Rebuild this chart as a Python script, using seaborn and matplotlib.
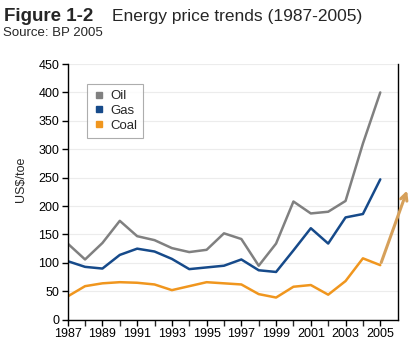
import matplotlib
matplotlib.use("Agg")
import matplotlib.pyplot as plt
from matplotlib.lines import Line2D
import seaborn as sns
import pandas as pd

years = list(range(1987, 2006))
oil = [134, 106, 135, 174, 147, 140, 126, 119, 123, 152, 142, 95, 134, 208, 187, 190, 209, 310, 400]
gas = [103, 93, 90, 114, 125, 120, 107, 89, 92, 95, 106, 87, 84, 122, 161, 134, 180, 186, 247]
coal = [41, 59, 64, 66, 65, 62, 52, 59, 66, 64, 62, 45, 39, 58, 61, 44, 68, 108, 96]
series = ["Oil", "Gas", "Coal"]
colors = {"Oil": "#808080", "Gas": "#164a8a", "Coal": "#f0961e"}

df = pd.DataFrame({
    "year": years * 3,
    "value": oil + gas + coal,
    "fuel": ["Oil"] * 19 + ["Gas"] * 19 + ["Coal"] * 19,
})

sns.set_style("white")
plt.rcParams["font.family"] = ["Liberation Sans", "DejaVu Sans"]

fig = plt.figure(figsize=(4.14, 3.5), dpi=100)
ax = fig.add_axes([0.1635, 0.0866, 0.797, 0.7305])

sns.lineplot(data=df, x="year", y="value", hue="fuel", hue_order=series,
             palette=colors, linewidth=1.8, ax=ax, legend=False)

ax.set_xlim(1987, 2006)
ax.set_ylim(0, 450)
ax.set_yticks(range(0, 451, 50))
ax.set_xticks(years, minor=True)
ax.set_xticks(range(1987, 2006, 2))
ax.tick_params(axis="both", labelsize=9, colors="black", direction="out", length=4, width=1)
ax.tick_params(axis="x", which="minor", length=4, width=1, bottom=True)
ax.tick_params(axis="x", which="major", bottom=True, pad=2)
ax.tick_params(axis="y", left=True, pad=2)
ax.yaxis.grid(True, color="#ececec", linewidth=0.8)
ax.set_axisbelow(True)
for s in ["left", "bottom", "right"]:
    ax.spines[s].set_color("black")
    ax.spines[s].set_linewidth(1)
ax.spines["top"].set_visible(False)
ax.set_xlabel("")
ax.set_ylabel("US$/toe", fontsize=9)
ax.yaxis.set_label_coords(-0.123, 0.55)

handles = [Line2D([], [], marker="s", linestyle="none", markersize=5,
                  color=colors[s]) for s in series]
leg = ax.legend(handles, series, loc="upper left", bbox_to_anchor=(0.058, 0.922),
                fontsize=9.5, frameon=True, fancybox=False, handletextpad=0.3,
                labelspacing=0.2, borderpad=0.45, handlelength=1, borderaxespad=0)
leg.get_frame().set_edgecolor("#999999")
leg.get_frame().set_linewidth(0.8)

ax.annotate("", xy=(2006.6, 232), xytext=(2005, 96),
            arrowprops=dict(arrowstyle="->", color="#d6a05a", lw=2.2,
                            mutation_scale=12),
            annotation_clip=False)

fig.text(0.01, 0.94, "Figure 1-2", fontsize=13.5, fontweight="bold", ha="left", va="baseline")
fig.text(0.27, 0.94, "Energy price trends (1987-2005)", fontsize=12.5, ha="left", va="baseline")
fig.text(0.008, 0.897, "Source: BP 2005", fontsize=9.5, ha="left", va="baseline")

fig.savefig("out.png", dpi=100, facecolor="white")
